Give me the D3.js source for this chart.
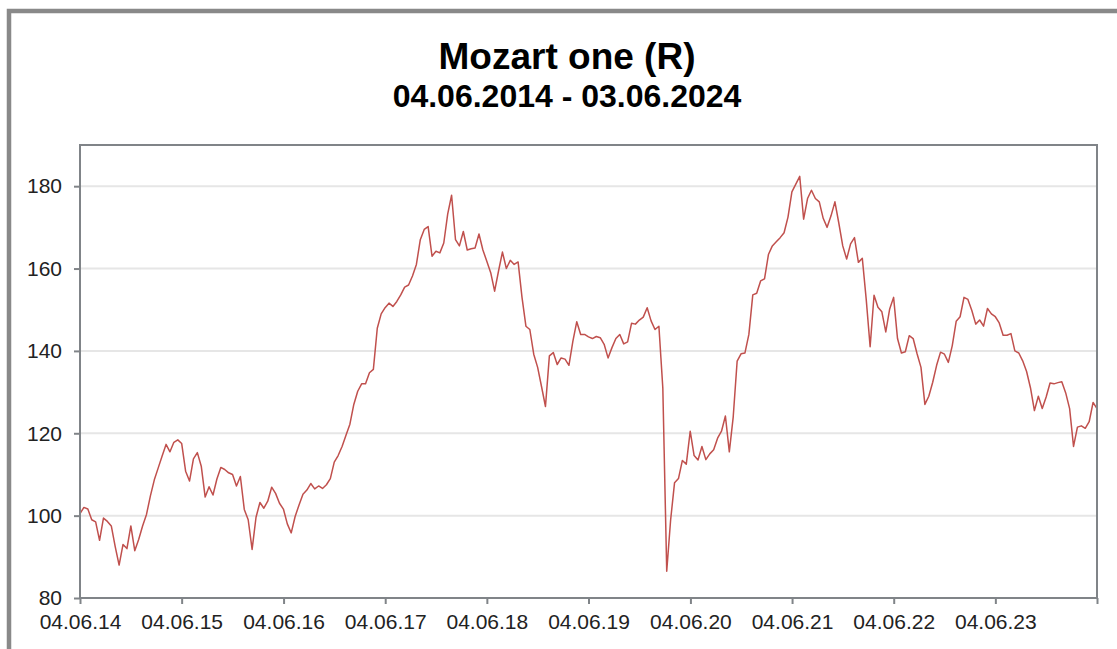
<!DOCTYPE html>
<html>
<head>
<meta charset="utf-8">
<script src="https://cdn.jsdelivr.net/npm/d3@7"></script>
<style>
  body { margin: 0; background: #fff; }
  text { font-family: "Liberation Sans", Arial, sans-serif; }
</style>
</head>
<body>
<script>
// chart data (roughly every two weeks)
const titleText = "Mozart one (R)";
const subtitleText = "04.06.2014 - 03.06.2024";
const startDate = "2014-06-04";
const endDate = "2024-06-03";
const tickDates = ["2014-06-04", "2015-06-04", "2016-06-04", "2017-06-04", "2018-06-04",
    "2019-06-04", "2020-06-04", "2021-06-04", "2022-06-04", "2023-06-04", "2024-06-03"];
const yTicks = [80, 100, 120, 140, 160, 180];
const values = [
    100.5, 102, 101.6, 99, 98.5, 94, 99.4, 98.6, 97.5, 92.5,
    88, 93, 92, 97.5, 91.5, 94.2, 97.5, 100.3, 104.8, 108.7,
    111.6, 114.5, 117.3, 115.5, 117.8, 118.4, 117.5, 110.8, 108.4, 113.8,
    115.3, 112, 104.5, 107, 105, 108.9, 111.7, 111.2, 110.4, 110,
    107.2, 109.5, 101.5, 99, 91.8, 99.6, 103.2, 101.8, 103.5, 106.9,
    105.4, 103, 101.6, 98, 95.8, 99.8, 102.6, 105.2, 106.2, 107.8,
    106.5, 107.2, 106.6, 107.5, 109, 113, 114.6, 116.8, 119.5, 122.2,
    127, 130.2, 132, 132, 134.7, 135.5, 145.5, 149, 150.5, 151.6,
    150.8, 152, 153.6, 155.5, 156, 158.2, 161, 167, 169.5, 170.2,
    163, 164.2, 163.8, 166.2, 173.2, 177.8, 167, 165.5, 169, 164.5,
    164.8, 165, 168.4, 164.5, 161.8, 159, 154.5, 159.4, 164, 160,
    162, 161, 161.6, 153, 146, 145.2, 139.2, 136, 131.3, 126.5,
    138.8, 139.6, 136.7, 138.3, 138, 136.5, 142.3, 147.1, 144, 144,
    143.4, 143, 143.5, 143.2, 141.6, 138.3, 140.8, 143, 144, 141.7,
    142.2, 146.7, 146.5, 147.5, 148.2, 150.5, 147.3, 145.2, 146, 131,
    86.5, 99, 108, 109, 113.4, 112.5, 120.5, 114.6, 113.5, 116.8,
    113.6, 115, 116, 118.8, 120.5, 124.2, 115.5, 124, 137.5, 139.3,
    139.5, 144, 153.6, 154, 157, 157.5, 163.4, 165.5, 166.5, 167.5,
    168.7, 172.5, 178.6, 180.5, 182.4, 172, 177, 179, 177, 176.2,
    172.2, 170, 172.8, 176.2, 171, 165.5, 162.3, 166, 167.5, 161.5,
    162.5, 152.5, 141, 153.5, 150.6, 149.5, 144.6, 150.2, 153, 143,
    139.5, 139.8, 143.7, 143, 139.3, 136, 127, 129, 132.4, 136.5,
    139.7, 139.2, 137.2, 141.3, 147.2, 148.3, 153, 152.5, 149.8, 146.5,
    147.5, 146, 150.3, 149, 148.3, 146.8, 143.8, 143.8, 144.2, 140,
    139.5, 137.6, 135, 131, 125.5, 129, 126, 128.8, 132.2, 132,
    132.3, 132.5, 129.8, 126, 116.8, 121.5, 121.8, 121.2, 122.8, 127.5,
    126
];

const outerWidth = 1117;
const outerHeight = 649;
const margin = {top: 145, left: 80, bottom: 51, right: 20};
const width = outerWidth - margin.left - margin.right;
const height = outerHeight - margin.top - margin.bottom;

const parseDate = d3.timeParse("%Y-%m-%d");
const t0 = parseDate(startDate), t1 = parseDate(endDate);
const series = values.map((v, i) => ({
    date: new Date(+t0 + i * (t1 - t0) / (values.length - 1)),
    value: v
}));

const root = d3.select("body").append("svg")
    .attr("width", outerWidth)
    .attr("height", outerHeight);

// outer gray frame (runs off the right and bottom edge)
root.append("rect")
    .attr("x", 9).attr("y", 11)
    .attr("width", outerWidth + 20).attr("height", outerHeight + 20)
    .attr("fill", "#fff")
    .attr("stroke", "#898989")
    .attr("stroke-width", 4.5);

root.append("text")
    .attr("x", 567).attr("y", 69)
    .attr("text-anchor", "middle")
    .attr("font-size", 37).attr("font-weight", "bold")
    .attr("fill", "#000")
    .text(titleText);

root.append("text")
    .attr("x", 567).attr("y", 107)
    .attr("text-anchor", "middle")
    .attr("font-size", 32).attr("font-weight", "bold")
    .attr("fill", "#000")
    .text(subtitleText);

const svg = root.append("g")
    .attr("transform", `translate(${margin.left}, ${margin.top})`);

const xScale = d3.scaleTime()
    .domain([t0, t1])
    .range([0, width]);

const yScale = d3.scaleLinear()
    .domain([80, 190])
    .range([height, 0]);

// grid
svg.selectAll(".grid")
    .data(yTicks.filter(d => d > 80))
    .enter()
    .append("line")
    .attr("class", "grid")
    .attr("x1", 0).attr("x2", width)
    .attr("y1", d => yScale(d)).attr("y2", d => yScale(d))
    .attr("stroke", "#e6e6e6")
    .attr("stroke-width", 2);

const line = d3.line()
    .x(d => xScale(d.date))
    .y(d => yScale(d.value));

svg.append("path")
    .datum(series)
    .attr("fill", "none")
    .attr("stroke", "#c0504d")
    .attr("stroke-width", 1.5)
    .attr("stroke-linejoin", "round")
    .attr("d", line);

// plot frame
svg.append("rect")
    .attr("x", 0).attr("y", 0)
    .attr("width", width).attr("height", height)
    .attr("fill", "none")
    .attr("stroke", "#808488")
    .attr("stroke-width", 2);

const xAxis = d3.axisBottom(xScale)
    .tickValues(tickDates.map(parseDate))
    .tickSize(6)
    .tickSizeOuter(0)
    .tickPadding(10)
    .tickFormat((d, i) => i === tickDates.length - 1 ? "" : d3.timeFormat("%d.%m.%y")(d));

const yAxis = d3.axisLeft(yScale)
    .tickValues(yTicks)
    .tickSize(6)
    .tickSizeOuter(0)
    .tickPadding(12);

svg.append("g")
    .attr("class", "axis x-axis")
    .attr("transform", `translate(0, ${height})`)
    .call(xAxis);

svg.append("g")
    .attr("class", "axis y-axis")
    .call(yAxis);

svg.selectAll(".axis .domain").remove();
svg.selectAll(".axis line")
    .attr("stroke", "#808488")
    .attr("stroke-width", 2);
svg.selectAll(".axis text")
    .attr("font-size", 21)
    .attr("font-family", "'Liberation Sans', Arial, sans-serif")
    .attr("fill", "#222");
</script>
</body>
</html>
